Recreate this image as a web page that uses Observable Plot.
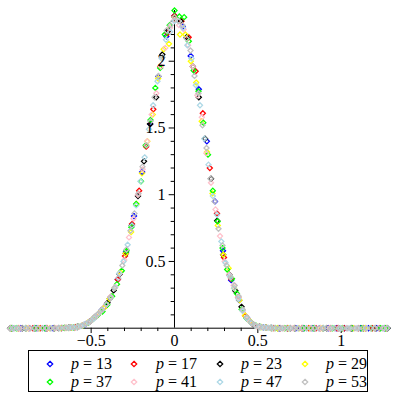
<!DOCTYPE html>
<html><head><meta charset="utf-8">
<script src="https://cdn.jsdelivr.net/npm/d3@7"></script>
<script src="https://cdn.jsdelivr.net/npm/@observablehq/plot@0.6"></script>
<style>
html,body{margin:0;padding:0;background:#fff;}
#wrap{position:relative;width:400px;height:400px;font-family:"Liberation Serif","Times New Roman",Tinos,"DejaVu Serif",serif;}
#chart svg{display:block;}
#legend{position:absolute;left:28px;top:350px;width:340px;height:42px;border:1px solid #000;box-sizing:border-box;}
.item{position:absolute;font-size:16px;line-height:16px;white-space:pre;color:#000;font-family:"Liberation Serif","Times New Roman",Tinos,"DejaVu Serif",serif;}
.mk{position:absolute;}
</style></head><body><div id="wrap"><div id="chart"></div><div id="legend"></div></div>
<script>
// series values: [x, density]
const s13 = [[-0.970,0],[-0.922,0],[-0.873,0],[-0.825,0],[-0.776,0],[-0.728,0],[-0.679,0.001],
[-0.631,0.004],[-0.582,0.010],[-0.534,0.030],[-0.485,0.074],[-0.437,0.135],[-0.388,0.222],[-0.340,0.367],[-0.291,0.570],[-0.243,0.840],[-0.194,1.170],[-0.146,1.530],[-0.097,1.885],[-0.049,2.186],[0,2.340],[0.049,2.260],[0.097,2.040],[0.146,1.790],[0.194,1.400],[0.243,0.950],[0.291,0.580],[0.340,0.360],[0.388,0.210],[0.437,0.074],[0.485,0.019],[0.534,0.006],
[0.582,0.002],[0.631,0],[0.679,0],[0.728,0],[0.776,0],[0.825,0],[0.873,0],[0.922,0],[0.970,0],[1.019,0],[1.067,0],[1.116,0],[1.164,0],[1.213,0],[1.261,0]];
const s17 = [[-0.976,0],[-0.934,0],[-0.891,0],[-0.849,0],[-0.806,0],[-0.764,0],[-0.721,0],[-0.679,0.001],
[-0.636,0.003],[-0.594,0.008],[-0.552,0.020],[-0.509,0.050],[-0.467,0.096],[-0.424,0.152],[-0.382,0.235],[-0.340,0.365],[-0.297,0.540],[-0.255,0.780],[-0.212,1.030],[-0.170,1.360],[-0.127,1.640],[-0.085,1.960],[-0.042,2.210],[0,2.340],[0.042,2.300],[0.085,2.180],[0.127,1.925],[0.170,1.610],[0.212,1.200],[0.255,0.860],[0.297,0.530],[0.340,0.370],[0.382,0.230],[0.424,0.093],[0.467,0.034],[0.509,0.010],[0.552,0.004],
[0.594,0.001],[0.636,0],[0.679,0],[0.721,0],[0.764,0],[0.806,0],[0.849,0],[0.891,0],[0.934,0],[0.976,0],[1.018,0],[1.061,0],[1.103,0],[1.146,0],[1.188,0],[1.231,0],[1.273,0]];
const s23 = [[-0.986,0],[-0.913,0],[-0.840,0],[-0.767,0],[-0.694,0.001],[-0.657,0.002],
[-0.621,0.004],[-0.584,0.009],[-0.548,0.022],[-0.511,0.047],[-0.475,0.086],[-0.438,0.133],[-0.402,0.190],[-0.365,0.283],[-0.329,0.405],[-0.292,0.560],[-0.256,0.770],[-0.219,0.990],[-0.183,1.250],[-0.146,1.530],[-0.110,1.730],[-0.073,2.050],[-0.037,2.230],[0,2.330],[0.037,2.300],[0.073,2.180],[0.110,1.960],[0.146,1.730],[0.183,1.420],[0.219,1.120],[0.256,0.805],[0.292,0.550],[0.329,0.400],[0.365,0.280],[0.402,0.160],[0.438,0.070],[0.475,0.026],[0.511,0.010],[0.548,0.004],
[0.584,0.001],[0.621,0],[0.694,0],[0.767,0],[0.840,0],[0.913,0],[0.986,0],[1.059,0],[1.132,0],[1.205,0],[1.278,0]];
const s29 = [[-0.975,0],[-0.943,0],[-0.878,0],[-0.813,0],[-0.748,0],[-0.683,0.001],[-0.650,0.002],
[-0.618,0.004],[-0.585,0.010],[-0.553,0.020],[-0.520,0.042],[-0.488,0.073],[-0.455,0.110],[-0.423,0.152],[-0.390,0.220],[-0.358,0.305],[-0.325,0.420],[-0.293,0.560],[-0.260,0.720],[-0.228,0.930],[-0.195,1.160],[-0.163,1.400],[-0.130,1.600],[-0.098,1.870],[-0.065,2.090],[-0.033,2.130],[0,2.330],[0.033,2.200],[0.065,2.200],[0.098,2.000],[0.130,1.840],[0.163,1.550],[0.195,1.320],[0.228,1.010],[0.260,0.770],[0.293,0.550],[0.325,0.450],[0.358,0.300],[0.390,0.210],[0.423,0.095],[0.455,0.050],[0.488,0.018],[0.520,0.008],[0.553,0.004],
[0.585,0.001],[0.618,0],[0.683,0],[0.748,0],[0.813,0],[0.878,0],[0.943,0],[1.008,0],[1.073,0],[1.138,0],[1.203,0],[1.268,0]];
const s37 = [[-0.978,0],[-0.949,0],[-0.892,0],[-0.834,0],[-0.777,0],[-0.719,0],[-0.662,0.002],[-0.633,0.003],
[-0.604,0.005],[-0.575,0.012],[-0.547,0.022],[-0.518,0.040],[-0.489,0.068],[-0.460,0.098],[-0.432,0.125],[-0.403,0.175],[-0.374,0.240],[-0.345,0.330],[-0.316,0.430],[-0.288,0.580],[-0.259,0.757],[-0.230,0.930],[-0.201,1.100],[-0.173,1.370],[-0.144,1.560],[-0.115,1.800],[-0.086,1.950],[-0.058,2.200],[-0.029,2.270],[0,2.380],[0.029,2.335],[0.058,2.330],[0.086,2.150],[0.115,1.930],[0.144,1.775],[0.173,1.540],[0.201,1.300],[0.230,1.030],[0.259,0.800],[0.288,0.600],[0.316,0.440],[0.345,0.370],[0.374,0.260],[0.403,0.140],[0.432,0.075],[0.460,0.040],[0.489,0.018],[0.518,0.009],[0.547,0.004],
[0.575,0.002],[0.604,0.001],[0.662,0],[0.719,0],[0.777,0],[0.834,0],[0.892,0],[0.949,0],[1.007,0],[1.064,0],[1.122,0],[1.180,0],[1.237,0],[1.266,0]];
const s41 = [[-0.984,0],[-0.929,0],[-0.875,0],[-0.820,0],[-0.765,0],[-0.711,0.001],[-0.656,0.002],[-0.629,0.003],
[-0.601,0.005],[-0.574,0.011],[-0.547,0.024],[-0.519,0.042],[-0.492,0.066],[-0.465,0.097],[-0.437,0.133],[-0.410,0.178],[-0.383,0.235],[-0.355,0.310],[-0.328,0.410],[-0.301,0.510],[-0.273,0.680],[-0.246,0.820],[-0.219,1.000],[-0.191,1.190],[-0.164,1.400],[-0.137,1.600],[-0.109,1.760],[-0.082,1.960],[-0.055,2.100],[-0.027,2.250],[0,2.310],[0.027,2.270],[0.055,2.240],[0.082,2.120],[0.109,1.960],[0.137,1.745],[0.164,1.580],[0.191,1.310],[0.219,1.090],[0.246,0.890],[0.273,0.690],[0.301,0.500],[0.328,0.400],[0.355,0.320],[0.383,0.230],[0.410,0.130],[0.437,0.070],[0.465,0.036],[0.492,0.015],[0.519,0.008],[0.547,0.004],
[0.574,0.002],[0.601,0.001],[0.656,0],[0.711,0],[0.765,0],[0.820,0],[0.875,0],[0.929,0],[0.984,0],[1.039,0],[1.093,0],[1.148,0],[1.203,0],[1.257,0]];
const s47 = [[-0.970,0],[-0.945,0],[-0.894,0],[-0.842,0],[-0.791,0],[-0.740,0],[-0.689,0.001],[-0.638,0.003],[-0.613,0.005],
[-0.587,0.008],[-0.562,0.016],[-0.536,0.030],[-0.511,0.046],[-0.485,0.073],[-0.460,0.105],[-0.434,0.138],[-0.408,0.180],[-0.383,0.232],[-0.357,0.305],[-0.332,0.410],[-0.306,0.500],[-0.281,0.625],[-0.255,0.770],[-0.230,0.920],[-0.204,1.100],[-0.179,1.280],[-0.153,1.490],[-0.128,1.670],[-0.102,1.850],[-0.077,2.020],[-0.051,2.160],[-0.026,2.220],[0,2.300],[0.026,2.300],[0.051,2.250],[0.077,2.120],[0.102,2.020],[0.128,1.820],[0.153,1.670],[0.179,1.420],[0.204,1.225],[0.230,0.990],[0.255,0.850],[0.281,0.650],[0.306,0.490],[0.332,0.390],[0.357,0.300],[0.383,0.220],[0.408,0.130],[0.434,0.075],[0.460,0.040],[0.485,0.020],[0.511,0.010],[0.536,0.005],
[0.562,0.003],[0.587,0.001],[0.638,0],[0.689,0],[0.740,0],[0.791,0],[0.842,0],[0.894,0],[0.945,0],[0.996,0],[1.047,0],[1.098,0],[1.149,0],[1.200,0],[1.251,0],[1.276,0]];
const s53 = [[-0.986,0],[-0.962,0],[-0.938,0],[-0.914,0],[-0.889,0],[-0.865,0],[-0.841,0],[-0.817,0],[-0.793,0],[-0.769,0],[-0.745,0],[-0.721,0],[-0.697,0.001],[-0.673,0.002],[-0.649,0.003],[-0.625,0.004],
[-0.601,0.007],[-0.577,0.012],[-0.553,0.020],[-0.529,0.034],[-0.505,0.054],[-0.481,0.084],[-0.457,0.108],[-0.433,0.140],[-0.409,0.178],[-0.385,0.228],[-0.361,0.300],[-0.337,0.375],[-0.313,0.470],[-0.288,0.590],[-0.264,0.730],[-0.240,0.860],[-0.216,1.010],[-0.192,1.210],[-0.168,1.370],[-0.144,1.550],[-0.120,1.730],[-0.096,1.890],[-0.072,2.030],[-0.048,2.230],[-0.024,2.270],[0,2.330],[0.024,2.300],[0.048,2.270],[0.072,2.170],[0.096,2.080],[0.120,1.890],[0.144,1.760],[0.168,1.520],[0.192,1.350],[0.216,1.120],[0.240,0.950],[0.264,0.745],[0.288,0.620],[0.313,0.470],[0.337,0.380],[0.361,0.320],[0.385,0.240],[0.409,0.140],[0.433,0.083],[0.457,0.045],[0.481,0.022],[0.505,0.011],[0.529,0.006],
[0.553,0.004],[0.577,0.002],[0.601,0.001],[0.625,0],[0.649,0],[0.673,0],[0.697,0],[0.721,0],[0.745,0],[0.769,0],[0.793,0],[0.817,0],[0.841,0],[0.865,0],[0.889,0],[0.913,0],[0.938,0],[0.962,0],[0.986,0],[1.010,0],[1.034,0],[1.058,0],[1.082,0],[1.106,0],[1.130,0],[1.154,0],[1.178,0],[1.202,0],[1.226,0],[1.250,0],[1.274,0]];

const primes = [13, 17, 23, 29, 37, 41, 47, 53];
const colors = ["#0000ff", "#ff0000", "#000000", "#ffff00", "#00ff00", "#ffc0cb", "#add8e6", "#c0c0c0"];
const seriesList = [s13, s17, s23, s29, s37, s41, s47, s53];

const xMinorTicks = [-0.9,-0.8,-0.7,-0.6,-0.4,-0.3,-0.2,-0.1,0.1,0.2,0.3,0.4,0.6,0.7,0.8,0.9,1.1,1.2];
const xMajorTicks = [-0.5, 0.5, 1];
const xTickLabels = [-0.5, 0, 0.5, 1];
const yMinorTicks = [0.1,0.2,0.3,0.4,0.6,0.7,0.8,0.9,1.1,1.2,1.3,1.4,1.6,1.7,1.8,1.9,2.1,2.2,2.3];
const yMajorTicks = [0.5, 1, 1.5, 2];
const yTickLabels = [0.5, 1, 1.5, 2];

const labels = primes.map(p => "p = " + p);
const table = seriesList.flatMap((s, i) => s.map(([x, y]) => ({x, y, p: labels[i]})));
const fmt = d => (d < 0 ? "\u2212" + Math.abs(d) : String(d));
const serif = "'Liberation Serif', 'Times New Roman', Tinos, 'DejaVu Serif', serif";

const chart = Plot.plot({
  width: 400,
  height: 348,
  marginTop: 10,
  marginBottom: 20.3,
  marginLeft: 7.3,
  marginRight: 9.3,
  x: {domain: [-1, 1.3], axis: null},
  y: {domain: [0, 2.38], axis: null},
  color: {domain: labels, range: colors},
  style: {fontFamily: serif, fontSize: "16px", background: "white", overflow: "visible"},
  marks: [
    Plot.ruleY([0], {stroke: "black", strokeWidth: 1}),
    Plot.ruleX([0], {y1: 0, y2: 2.38, stroke: "black", strokeWidth: 1}),
    Plot.ruleX(xMinorTicks, {x: d => d, y1: 0, y2: -0.025, stroke: "black"}),
    Plot.ruleX(xMajorTicks, {x: d => d, y1: 0, y2: -0.04, stroke: "black"}),
    Plot.ruleY(yMinorTicks, {y: d => d, x1: -0.02, x2: 0, stroke: "black"}),
    Plot.ruleY(yMajorTicks, {y: d => d, x1: -0.032, x2: 0, stroke: "black"}),
    Plot.dot(table, {x: "x", y: "y", stroke: "p", symbol: "diamond2", r: 2.3, strokeWidth: 1.25, fill: "none"}),
    Plot.text(xTickLabels, {x: d => d, y: 0, text: fmt, dy: 12.5, lineAnchor: "middle", fill: "black", fontFamily: serif, fontSize: 16}),
    Plot.text(yTickLabels, {x: 0, y: d => d, text: d => String(d), textAnchor: "end", dx: -9, fill: "black", fontFamily: serif, fontSize: 16})
  ]
});
document.getElementById("chart").appendChild(chart);

// legend below the plot
const legend = document.getElementById("legend");
const markerX = [21, 105, 191, 276];
const textX = [42, 127, 212, 297];
const rowY = [13, 31];
primes.forEach((p, i) => {
  const col = i % 4, row = Math.floor(i / 4);
  const ns = "http://www.w3.org/2000/svg";
  const svg = document.createElementNS(ns, "svg");
  svg.setAttribute("width", 8); svg.setAttribute("height", 8);
  svg.setAttribute("class", "mk");
  svg.style.left = (markerX[col] - 4) + "px";
  svg.style.top = (rowY[row] - 4) + "px";
  const poly = document.createElementNS(ns, "polygon");
  poly.setAttribute("points", "4,1.3 6.7,4 4,6.7 1.3,4");
  poly.setAttribute("fill", "none");
  poly.setAttribute("stroke", colors[i]);
  poly.setAttribute("stroke-width", "1.3");
  svg.appendChild(poly);
  legend.appendChild(svg);
  const span = document.createElement("span");
  span.className = "item";
  span.style.left = textX[col] + "px";
  span.style.top = (rowY[row] - 8) + "px";
  span.innerHTML = "<i>p</i> = " + p;
  legend.appendChild(span);
});
</script></body></html>
